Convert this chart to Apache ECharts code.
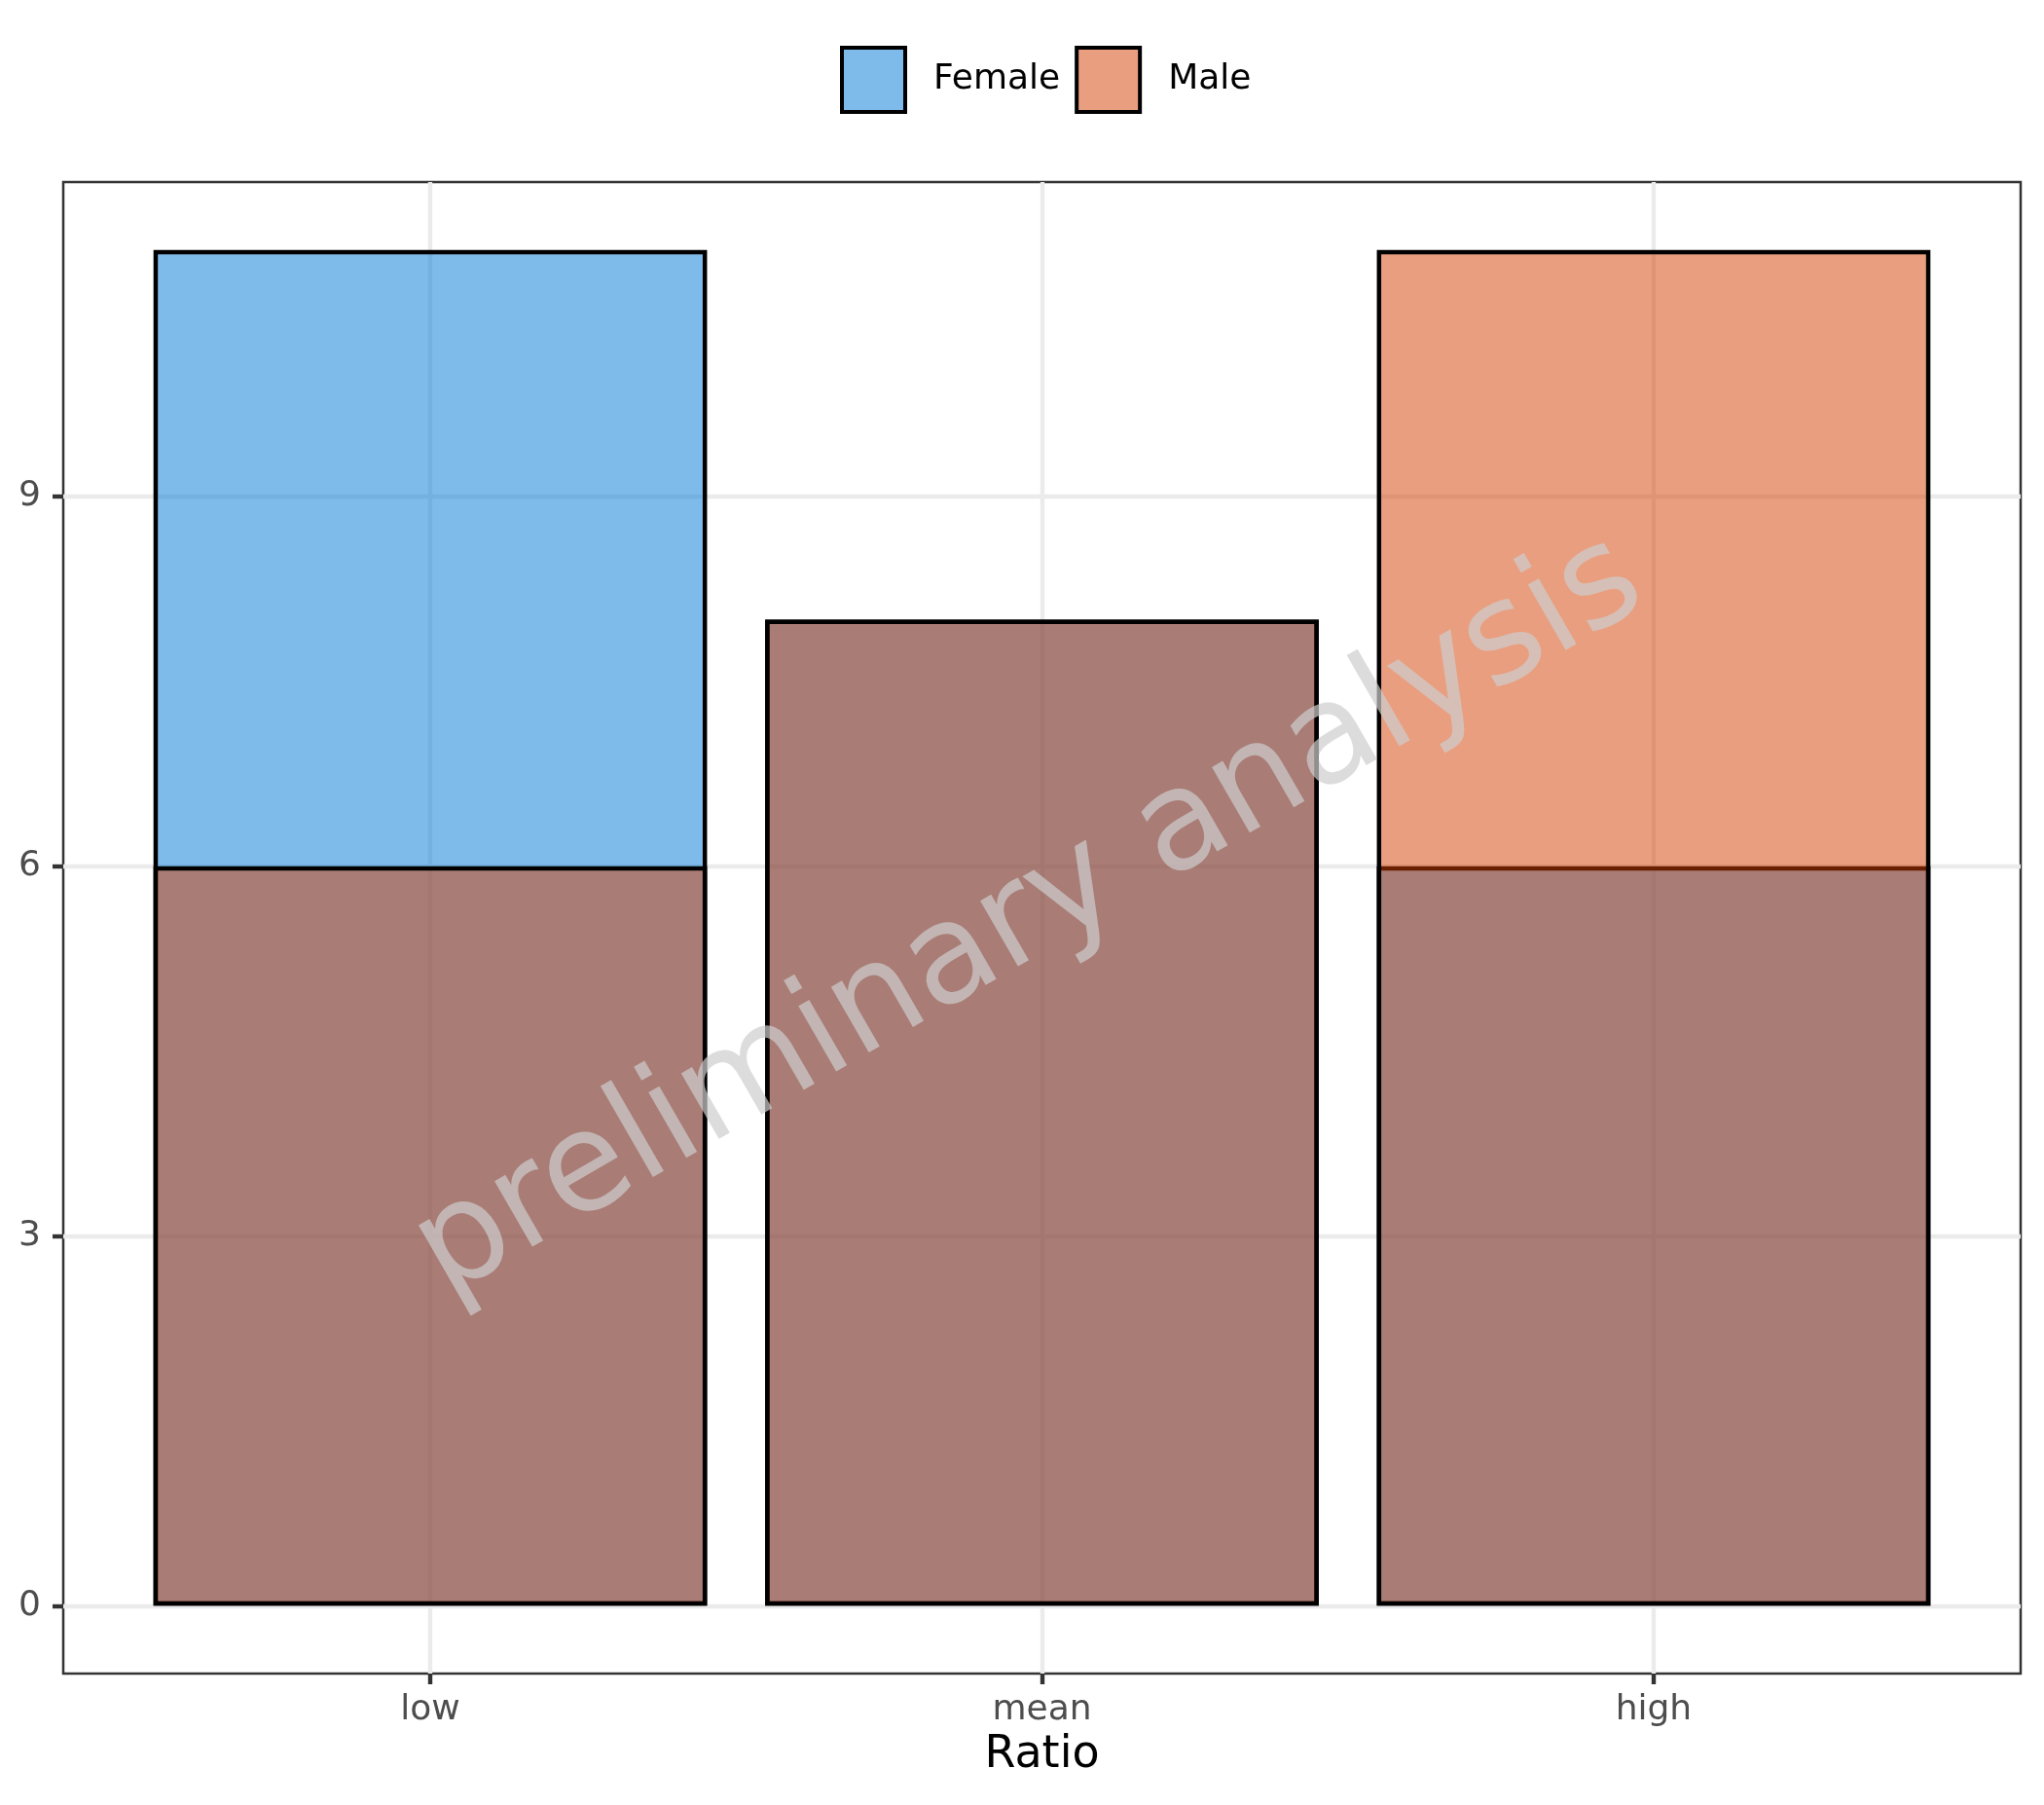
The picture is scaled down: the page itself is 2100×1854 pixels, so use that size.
<!DOCTYPE html>
<html><head><meta charset="utf-8">
<script src="https://cdn.jsdelivr.net/npm/echarts@6/dist/echarts.min.js"></script>
<style>html,body{margin:0;padding:0;background:#fff}#c{width:2100px;height:1854px}</style>
</head><body><div id="c"></div>
<script>
const categories = ['low', 'mean', 'high'];
const categoryPositions = [1, 2, 3];
const femaleValues = [11, 8, 6];
const maleValues = [6, 8, 11];
const yTickValues = [0, 3, 6, 9];
const seriesNames = ['Female', 'Male'];
const xAxisTitle = 'Ratio';
const watermarkText = 'preliminary analysis';

const FONT = 'DejaVu Sans';
const chart = echarts.init(document.getElementById('c'), null, {renderer: 'canvas'});

function toPairs(vals) { return vals.map((v, i) => [categoryPositions[i], v]); }

const option = {
  animation: false,
  backgroundColor: '#ffffff',
  textStyle: {fontFamily: FONT},
  grid: {
    left: 65, right: 24, top: 187, bottom: 135,
    show: true, borderColor: '#333333', borderWidth: 2.5, backgroundColor: 'transparent'
  },
  legend: {
    data: seriesNames,
    left: 858, top: 42,
    itemWidth: 65, itemHeight: 66, itemGap: 15,
    icon: 'rect',
    itemStyle: {borderColor: '#000', borderWidth: 4},
    textStyle: {fontFamily: FONT, fontSize: 36, color: '#000', padding: [8, 0, 0, 24]}
  },
  xAxis: {
    type: 'value', min: 0.4, max: 3.6,
    axisLine: {show: false, onZero: false},
    axisTick: {show: true, customValues: categoryPositions, length: 11, lineStyle: {color: '#333333', width: 4.4}},
    axisLabel: {
      customValues: categoryPositions,
      formatter: v => { const i = categoryPositions.indexOf(v); return i >= 0 ? categories[i] : ''; },
      color: '#4D4D4D', fontSize: 36, fontFamily: FONT, margin: 20
    },
    splitLine: {show: true, lineStyle: {color: '#EBEBEB', width: 4.4}},
    name: xAxisTitle, nameLocation: 'middle', nameGap: 53,
    nameTextStyle: {fontSize: 46, color: '#000', fontFamily: FONT}
  },
  yAxis: {
    type: 'value', min: -0.55, max: 11.55,
    axisLine: {show: false, onZero: false},
    axisTick: {show: true, customValues: yTickValues, length: 11, lineStyle: {color: '#333333', width: 4.4}},
    axisLabel: {customValues: yTickValues, color: '#4D4D4D', fontSize: 36, fontFamily: FONT, margin: 23},
    splitLine: {show: true, lineStyle: {color: '#EBEBEB', width: 4.4}}
  },
  series: [
    {
      name: seriesNames[0], type: 'bar', data: toPairs(femaleValues),
      barWidth: '90.5%', barGap: '-100%',
      itemStyle: {color: 'rgba(0,119,213,0.5)', borderColor: '#000', borderWidth: 4.5},
      emphasis: {disabled: true}
    },
    {
      name: seriesNames[1], type: 'bar', data: toPairs(maleValues),
      barWidth: '90.5%', barGap: '-100%',
      itemStyle: {color: 'rgba(211,61,0,0.5)', borderColor: '#000', borderWidth: 4.5},
      emphasis: {disabled: true}
    }
  ],
  graphic: [{
    type: 'text', x: 1058, y: 943, rotation: Math.PI / 6, z: 100,
    silent: true,
    style: {
      text: watermarkText, x: 0, y: 0,
      font: '142px "DejaVu Sans"',
      fill: 'rgba(205,205,205,0.7)',
      align: 'center', verticalAlign: 'middle'
    }
  }]
};
chart.setOption(option);
</script>
</body></html>
